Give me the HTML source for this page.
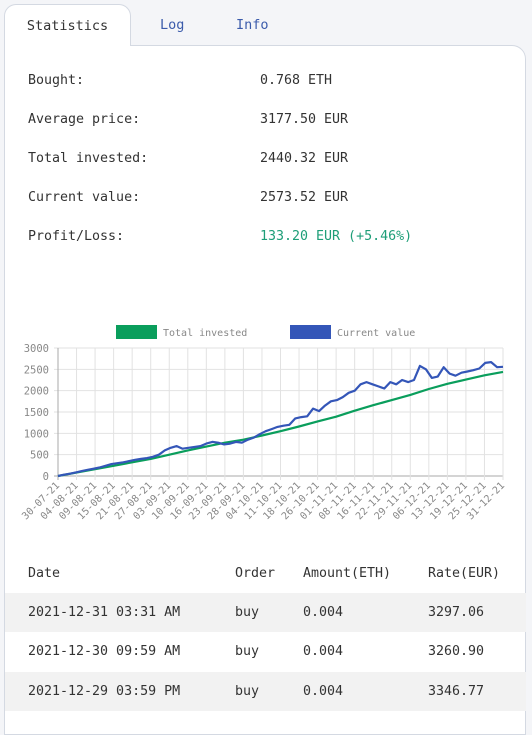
<!DOCTYPE html>
<html><head><meta charset="utf-8"><style>
body{margin:0;width:532px;height:715px;background:#f4f5f8;font-family:"DejaVu Sans Mono","Liberation Mono",monospace;font-size:13.3px;color:#333;position:relative;overflow:hidden}
.abs{position:absolute}
.tab{position:absolute;top:4px;height:41px;line-height:43px;font-size:13.5px}
#panel{position:absolute;left:4px;top:45px;width:522px;height:690px;background:#fff;border:1px solid #d4d9e2;border-top-right-radius:14px;box-sizing:border-box}
.row{position:absolute;left:28px}
.val{position:absolute;left:260px}
.tr{position:absolute;left:5px;width:521px;height:39px;line-height:39px}
.tr span{position:absolute}
</style></head><body>
<div id="panel"></div>
<div class="tab" style="left:4px;width:127px;background:#fff;border:1px solid #d4d9e2;border-bottom:none;border-radius:12px 12px 0 0;box-sizing:border-box;height:42px;text-align:center;color:#333;z-index:2">Statistics</div>
<div class="tab" style="left:160px;color:#3b5bab">Log</div>
<div class="tab" style="left:236px;color:#3b5bab">Info</div>

<div class="row" style="top:73px">Bought:</div><div class="val" style="top:73px">0.768 ETH</div>
<div class="row" style="top:112px">Average price:</div><div class="val" style="top:112px">3177.50 EUR</div>
<div class="row" style="top:151px">Total invested:</div><div class="val" style="top:151px">2440.32 EUR</div>
<div class="row" style="top:190px">Current value:</div><div class="val" style="top:190px">2573.52 EUR</div>
<div class="row" style="top:229px">Profit/Loss:</div><div class="val" style="top:229px;color:#1e9e78">133.20 EUR (+5.46%)</div>

<svg class="abs" style="left:0;top:0" width="532" height="545" id="chart" font-family="DejaVu Sans Mono, Liberation Mono, monospace"></svg>

<div class="tr" style="top:554px"><span style="left:23px">Date</span><span style="left:230px">Order</span><span style="left:298px">Amount(ETH)</span><span style="left:423px">Rate(EUR)</span></div>
<div class="tr" style="top:593px;background:#f2f2f2"><span style="left:23px">2021-12-31 03:31 AM</span><span style="left:230px">buy</span><span style="left:298px">0.004</span><span style="left:423px">3297.06</span></div>
<div class="tr" style="top:632px"><span style="left:23px">2021-12-30 09:59 AM</span><span style="left:230px">buy</span><span style="left:298px">0.004</span><span style="left:423px">3260.90</span></div>
<div class="tr" style="top:672px;background:#f2f2f2"><span style="left:23px">2021-12-29 03:59 PM</span><span style="left:230px">buy</span><span style="left:298px">0.004</span><span style="left:423px">3346.77</span></div>

<script>
const labels=["30-07-21","04-08-21","09-08-21","15-08-21","21-08-21","27-08-21","03-09-21","10-09-21","16-09-21","23-09-21","28-09-21","04-10-21","11-10-21","18-10-21","26-10-21","01-11-21","08-11-21","16-11-21","22-11-21","29-11-21","06-12-21","13-12-21","19-12-21","25-12-21","31-12-21"];
const yTicks=[0,500,1000,1500,2000,2500,3000];
const invested=[0,80,160,240,320,400,500,600,690,780,850,950,1050,1160,1280,1390,1530,1660,1780,1900,2040,2160,2260,2360,2440];
const current=[0,30,55,85,115,145,170,200,240,280,300,320,350,380,400,420,450,500,600,660,700,640,660,680,700,760,800,780,740,760,800,780,850,900,980,1050,1100,1150,1180,1200,1350,1380,1400,1580,1520,1650,1750,1780,1850,1950,2000,2150,2200,2150,2100,2050,2200,2150,2250,2200,2250,2580,2500,2300,2330,2550,2400,2350,2420,2450,2480,2520,2650,2670,2550,2560];
const NS="http://www.w3.org/2000/svg";
const svg=document.getElementById('chart');
const X0=58,X1=503,Y0=476,Y1=348;
const xs=f=>X0+f*(X1-X0);
const ys=v=>Y0-(v/3000)*(Y0-Y1);
function mk(t,a,p){const e=document.createElementNS(NS,t);for(const k in a)e.setAttribute(k,a[k]);(p||svg).appendChild(e);return e;}
yTicks.forEach(v=>{
 const l=mk('line',{x1:X0-4,x2:X1,y1:ys(v),y2:ys(v),stroke:v?'#e2e2e2':'#aaa'});
 
 
 const t=mk('text',{x:X0-9,y:ys(v)+4,'text-anchor':'end','font-size':10.5,fill:'#888'});
 t.textContent=v;
 
 
});
labels.forEach((lb,i)=>{
 const x=xs(i/(labels.length-1));
 const l=mk('line',{x1:x,x2:x,y1:Y1,y2:Y0+4,stroke:i?'#e2e2e2':'#aaa'});
 
 
 const t=mk('text',{x:x+2,y:Y0+10,'text-anchor':'end','font-size':10,fill:'#888',transform:`rotate(-45 ${x+2} ${Y0+10})`});
 t.textContent=lb;
 
 
});
function line(arr,color,name){
 const d=arr.map((v,i)=>(i?'L':'M')+xs(i/(arr.length-1)).toFixed(1)+' '+ys(v).toFixed(1)).join(' ');
 const p=mk('path',{d:d,fill:'none',stroke:color,'stroke-width':2.2,'stroke-linejoin':'round'});
 
 
}
line(invested,'#0a9e5c','total-invested-line');
line(current,'#3456b8','current-value-line');
[[116,'#0a9e5c','Total invested','legend-total-invested'],[290,'#3456b8','Current value','legend-current-value']].forEach(([x,c,txt,n])=>{
 const g=mk('g',{});
 
 
 mk('rect',{x:x,y:325,width:41,height:14,fill:c},g);
 const t=mk('text',{x:x+47,y:336,'font-size':10,fill:'#888'},g);t.textContent=txt;
});
</script>
</body></html>
